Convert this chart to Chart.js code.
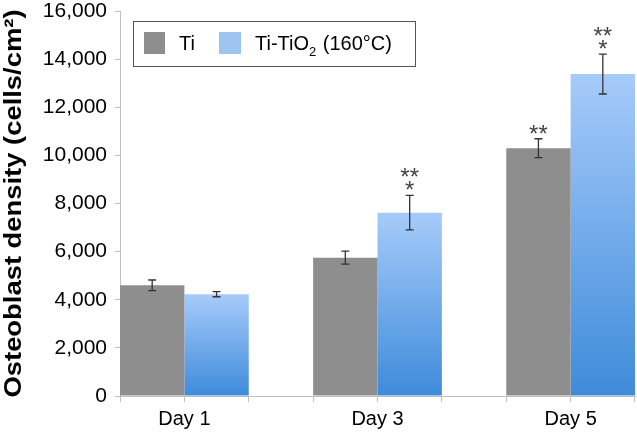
<!DOCTYPE html>
<html>
<head>
<meta charset="utf-8">
<script src="https://cdn.jsdelivr.net/npm/chart.js@4.4.1/dist/chart.umd.min.js"></script>
<style>
  html, body { margin: 0; padding: 0; background: #fff; }
  #wrap { width: 637px; height: 432px; }
</style>
</head>
<body>
<div id="wrap"><canvas id="myChart"></canvas></div>
<script>
// data
const days = [1, 3, 5];
const dayLabels = ["Day 1", "Day 3", "Day 5"];
const tiValues = [4600, 5750, 10300];
const tiErrors = [220, 270, 390];
const tio2Values = [4230, 7620, 13380];
const tio2Errors = [105, 720, 830];
const tiStars = [[], [], ["**"]];
const tio2Stars = [[], ["**", "*"], ["**", "*"]];
const yTitle = 'Osteoblast density (cells/cm\u00B2)';

const FONT = '"Liberation Sans", Arial, sans-serif';
Chart.defaults.font.family = FONT;
Chart.defaults.color = '#000';

function blueGradient(context) {
  const chart = context.chart;
  if (!chart.chartArea || context.type !== 'data') return '#8fbcf0';
  const y = chart.scales.y;
  const top = y.getPixelForValue(context.raw.y);
  const bottom = y.getPixelForValue(0);
  const g = chart.ctx.createLinearGradient(0, top, 0, bottom);
  g.addColorStop(0, '#a6cbfa');
  g.addColorStop(1, '#3e8bda');
  return g;
}

// error bars, asterisks, y title and the boxed legend
const extras = {
  id: 'extras',
  afterDatasetsDraw(chart) {
    const ctx = chart.ctx;
    const y = chart.scales.y;
    const sets = [[tiValues, tiErrors, tiStars], [tio2Values, tio2Errors, tio2Stars]];
    ctx.save();
    sets.forEach(([vals, errs, stars], di) => {
      const meta = chart.getDatasetMeta(di);
      meta.data.forEach((bar, i) => {
        const x = bar.x;
        const top = y.getPixelForValue(vals[i] + errs[i]);
        const bot = y.getPixelForValue(vals[i] - errs[i]);
        ctx.strokeStyle = '#333';
        ctx.lineWidth = 1.3;
        ctx.beginPath();
        ctx.moveTo(x, top); ctx.lineTo(x, bot);
        ctx.moveTo(x - 4, top); ctx.lineTo(x + 4, top);
        ctx.moveTo(x - 4, bot); ctx.lineTo(x + 4, bot);
        ctx.stroke();

        ctx.fillStyle = '#444';
        ctx.font = '24px ' + FONT;
        ctx.textAlign = 'center';
        ctx.textBaseline = 'alphabetic';
        const lines = stars[i];
        lines.forEach((s, k) => {
          const base = top + 3 - (lines.length - 1 - k) * 13;
          ctx.fillText(s, x, base);
        });
      });
    });

    // y axis title, stretched a little to the reference length
    ctx.save();
    ctx.translate(14, (chart.chartArea.top + chart.chartArea.bottom) / 2);
    ctx.rotate(-Math.PI / 2);
    ctx.font = 'bold 24px ' + FONT;
    const tw = ctx.measureText(yTitle).width;
    ctx.scale(388 / tw, 1);
    ctx.textAlign = 'center';
    ctx.textBaseline = 'middle';
    ctx.fillStyle = '#000';
    ctx.fillText(yTitle, 0, 0);
    ctx.restore();

    // legend
    ctx.lineWidth = 1;
    ctx.strokeStyle = '#555';
    ctx.fillStyle = '#fff';
    ctx.fillRect(133, 21, 283, 46);
    ctx.strokeRect(133.5, 21.5, 282, 45);
    ctx.fillStyle = '#8e8e8e';
    ctx.fillRect(144, 32, 21, 22);
    ctx.fillStyle = '#9dc3ef';
    ctx.fillRect(219, 32, 22, 22);
    ctx.fillStyle = '#000';
    ctx.textAlign = 'left';
    ctx.textBaseline = 'alphabetic';
    ctx.font = '20px ' + FONT;
    ctx.fillText('Ti', 179, 50);
    let tx = 255;
    ctx.fillText('Ti-TiO', tx, 50);
    tx += ctx.measureText('Ti-TiO').width;
    ctx.font = '13px ' + FONT;
    ctx.fillText('2', tx, 56);
    tx += ctx.measureText('2').width + 1;
    ctx.font = '20px ' + FONT;
    ctx.fillText(' (160\u00B0C)', tx, 50);
    ctx.restore();
  }
};

const ctx = document.getElementById('myChart').getContext('2d');
const myChart = new Chart(ctx, {
  type: 'bar',
  data: {
    datasets: [{
      label: 'Ti',
      data: days.map((d, i) => ({ x: d, y: tiValues[i] })),
      backgroundColor: '#8e8e8e',
      categoryPercentage: 2,
      barPercentage: 1
    }, {
      label: 'Ti-TiO2 (160\u00B0C)',
      data: days.map((d, i) => ({ x: d, y: tio2Values[i] })),
      backgroundColor: blueGradient,
      categoryPercentage: 2,
      barPercentage: 1
    }]
  },
  options: {
    responsive: true,
    maintainAspectRatio: false,
    animation: false,
    layout: { padding: { top: 11, right: 2, bottom: 0, left: 0 } },
    plugins: {
      legend: { display: false },
      tooltip: { enabled: false }
    },
    scales: {
      x: {
        type: 'linear',
        offset: false,
        min: 1 / 3,
        max: 17 / 3,
        afterBuildTicks: (scale) => {
          const ticks = [];
          for (let k = 0; k <= 8; k++) ticks.push({ value: 1 / 3 + k * 2 / 3 });
          scale.ticks = ticks;
        },
        afterFit: (scale) => {
          scale.height = 36;
          scale.paddingLeft = 0;
          scale.paddingRight = 0;
        },
        ticks: {
          autoSkip: false,
          maxRotation: 0,
          padding: 5,
          font: { size: 20 },
          color: '#000',
          callback: (v) => {
            const i = days.findIndex(d => Math.abs(d - v) < 0.01);
            return i >= 0 ? dayLabels[i] : '';
          }
        },
        grid: { drawOnChartArea: false, offset: false, tickLength: 6, color: '#bfbfbf' },
        border: { color: '#bfbfbf' }
      },
      y: {
        min: 0,
        max: 16000,
        afterFit: (scale) => {
          scale.width = 120;
          scale.paddingTop = 0;
          scale.paddingBottom = 0;
        },
        ticks: {
          stepSize: 2000,
          padding: 8,
          font: { size: 21 },
          color: '#000',
          callback: (v) => v.toLocaleString('en-US')
        },
        grid: { drawOnChartArea: false, tickLength: 5, color: '#bfbfbf' },
        border: { color: '#bfbfbf' }
      }
    }
  },
  plugins: [extras]
});
</script>
</body>
</html>
